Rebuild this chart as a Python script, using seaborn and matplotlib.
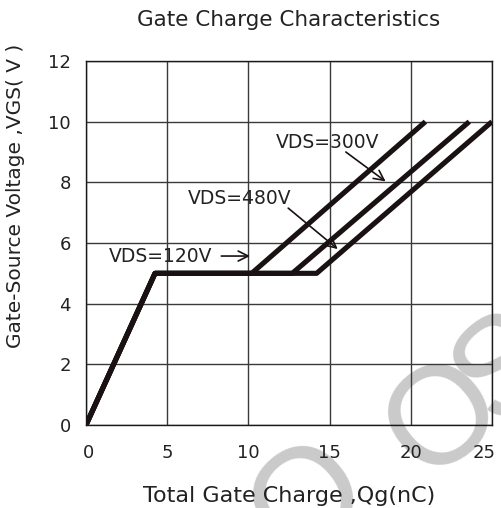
import matplotlib
matplotlib.use("Agg")
import matplotlib.pyplot as plt
import matplotlib.transforms as mtransforms
import seaborn as sns
import pandas as pd

# Data
qg_120 = [0, 4.25, 10.2, 20.9]
vgs_120 = [0, 5, 5, 10]
qg_480 = [0, 4.25, 12.7, 23.6]
vgs_480 = [0, 5, 5, 10]
qg_300 = [0, 4.25, 14.2, 25.0]
vgs_300 = [0, 5, 5, 10]
x_ticks = [0, 5, 10, 15, 20, 25]
y_ticks = [0, 2, 4, 6, 8, 10, 12]
labels = ["VDS=300V", "VDS=480V", "VDS=120V"]

rows = []
for name, xs, ys in [("VDS=120V", qg_120, vgs_120),
                     ("VDS=480V", qg_480, vgs_480),
                     ("VDS=300V", qg_300, vgs_300)]:
    for i, (a, b) in enumerate(zip(xs, ys)):
        rows.append({"series": name, "order": i, "Qg": a, "VGS": b})
df = pd.DataFrame(rows)

sns.set_style("white")
plt.rcParams['font.family'] = ['DejaVu Sans']

fig = plt.figure(figsize=(5.02, 5.08), dpi=100)
ax = fig.add_axes([86/502, 1-425/508, (492-86)/502, (425-61)/508])

# watermark (light grey, behind the chart)
wm = dict(color="#cacaca", fontsize=100, rotation=40, ha="center", va="center",
          zorder=-1, family="Liberation Sans")
fig.text(310/502, 1-502/508, "O", **wm)
fig.text(445/502, 1-420/508, "O", **wm)
fig.text(508/502, 1-370/508, "S", **wm)
ax.set_facecolor("none")

sns.lineplot(data=df, x="Qg", y="VGS", units="series", estimator=None,
             sort=False, color="#1a1212", linewidth=3.7, ax=ax,
             solid_capstyle="butt", zorder=3)

ax.set_xlim(0, 25)
ax.set_ylim(0, 12)
ax.set_xticks(x_ticks)
ax.set_yticks(y_ticks)
ax.grid(True, color="#3a3a3a", linewidth=1.0)
ax.set_axisbelow(True)
for s in ax.spines.values():
    s.set_color("#1a1a1a")
    s.set_linewidth(1.0)
    s.set_visible(True)
ax.tick_params(axis="x", length=0, pad=14, labelsize=13, colors="#222222")
ax.tick_params(axis="y", length=0, pad=11, labelsize=13, colors="#222222")

# nudge the edge x tick labels inward, as in the reference
fig.canvas.draw()
xlabs = ax.get_xticklabels()
xlabs[-1].set_transform(xlabs[-1].get_transform() +
                        mtransforms.ScaledTranslation(-8/100, 0, fig.dpi_scale_trans))
xlabs[0].set_transform(xlabs[0].get_transform() +
                       mtransforms.ScaledTranslation(3/100, 0, fig.dpi_scale_trans))

ax.set_xlabel("Total Gate Charge ,Qg(nC)", fontsize=16, labelpad=17, color="#222222")
ax.set_ylabel("Gate-Source Voltage ,VGS( V )", fontsize=14.5, color="#222222")
ax.yaxis.set_label_coords((25-86)/406, (425-196)/364)
ax.set_title("Gate Charge Characteristics", fontsize=15.5, pad=25, color="#222222")

arrow = dict(arrowstyle="->", color="#1a1212", lw=1.2, mutation_scale=18,
             shrinkA=0, shrinkB=0)
txt = dict(fontsize=13.5, va="center", ha="left", color="#222222", zorder=4)
ax.text(11.7, 9.3, labels[0], **txt)
ax.text(6.3, 7.47, labels[1], **txt)
ax.text(1.4, 5.57, labels[2], **txt)
ax.annotate("", xy=(18.45, 8.03), xytext=(16.0, 9.0), arrowprops=arrow)
ax.annotate("", xy=(15.5, 5.8), xytext=(12.45, 7.15), arrowprops=arrow)
ax.annotate("", xy=(10.1, 5.57), xytext=(8.33, 5.57), arrowprops=arrow)

fig.savefig("out.png", dpi=100)
